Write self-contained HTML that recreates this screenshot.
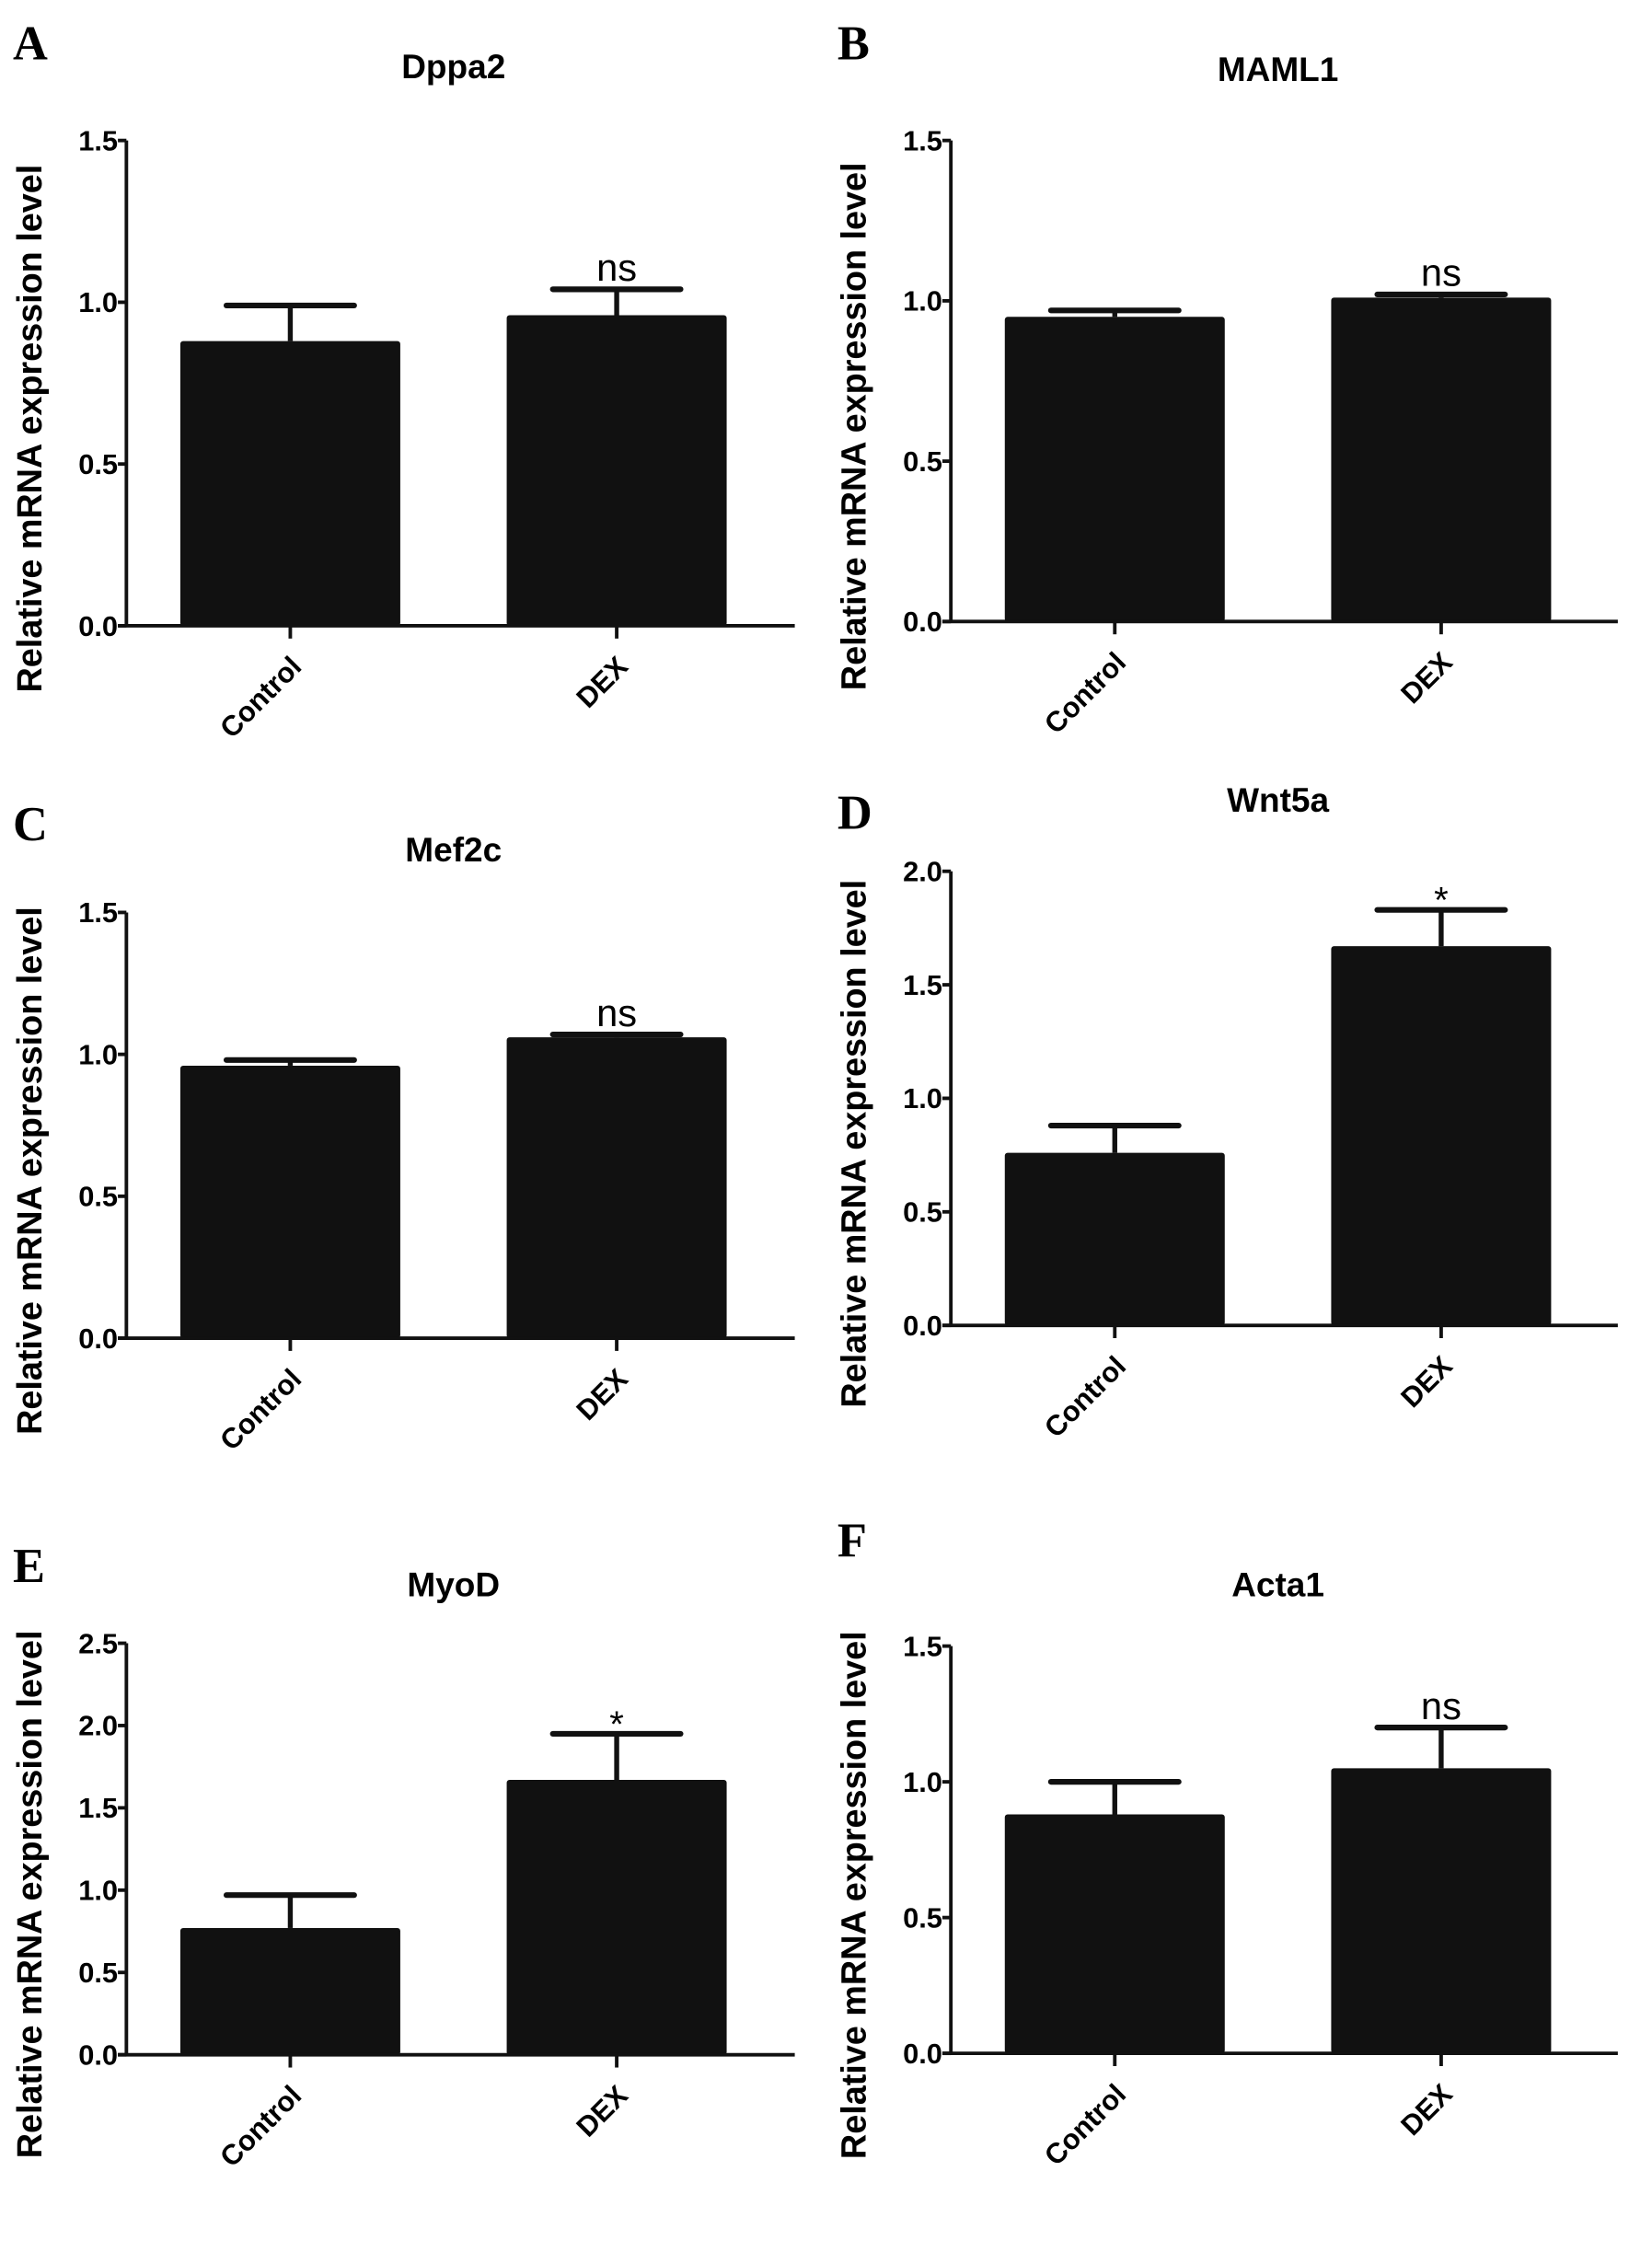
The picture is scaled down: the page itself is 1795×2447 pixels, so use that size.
<!DOCTYPE html>
<html><head><meta charset="utf-8">
<style>
html,body{margin:0;padding:0;background:#fff;}
svg{display:block;}
</style></head>
<body>
<svg id="fig" xmlns="http://www.w3.org/2000/svg" width="1795" height="2447" viewBox="0 0 1164 1587"></svg>
<script>
const genes = ["Dppa2","MAML1","Mef2c","Wnt5a","MyoD","Acta1"];
const panelLetters = ["A","B","C","D","E","F"];
const categories = ["Control","DEX"];
const controlMeans = [0.88,0.95,0.96,0.76,0.77,0.88];
const dexMeans = [0.96,1.01,1.06,1.67,1.67,1.05];
const controlErrTop = [0.99,0.97,0.98,0.88,0.97,1.00];
const dexErrTop = [1.04,1.02,1.07,1.83,1.95,1.20];
const significance = ["ns","ns","ns","*","*","ns"];
const yMax = [1.5,1.5,1.5,2.0,2.5,1.5];
const yTickLabels = [
  ["0.0","0.5","1.0","1.5"],
  ["0.0","0.5","1.0","1.5"],
  ["0.0","0.5","1.0","1.5"],
  ["0.0","0.5","1.0","1.5","2.0"],
  ["0.0","0.5","1.0","1.5","2.0","2.5"],
  ["0.0","0.5","1.0","1.5"]
];

// layout (pixel geometry, not data)
const layout = [
  {ax:89, top:99, zero:441, end:560, letterY:42, titleY:55},
  {ax:670, top:99, zero:438, end:1140, letterY:42, titleY:57},
  {ax:89, top:643, zero:943, end:560, letterY:592, titleY:607},
  {ax:670, top:614, zero:934, end:1140, letterY:584, titleY:572},
  {ax:89, top:1158, zero:1448, end:560, letterY:1115, titleY:1125},
  {ax:670, top:1160, zero:1447, end:1140, letterY:1097, titleY:1125}
];
const svg = document.getElementById('fig');
const NS = "http://www.w3.org/2000/svg";
const SANS = '"Liberation Sans", Arial, sans-serif';
function mk(tag, attrs, parent){
  const e = document.createElementNS(NS, tag);
  for (const k in attrs) e.setAttribute(k, attrs[k]);
  (parent||svg).appendChild(e);
  return e;
}
genes.forEach((g,i)=>{
  const L = layout[i];
  const grp = mk('g',{'font-family':SANS});
  
  
  const y = v => L.zero - (v / yMax[i]) * (L.zero - L.top);
  const barW = 155, gap = 75;
  const x0 = L.ax + 38;
  const xs = [x0, x0 + barW + gap];
  const lt = mk('text',{x:L.ax-80, y:L.letterY, 'font-size':34, 'font-weight':'bold', 'font-family':'"Liberation Serif", serif'}, grp);
  lt.textContent = panelLetters[i];
  
  
  const tt = mk('text',{x:(xs[0]+xs[1]+barW)/2, y:L.titleY, 'font-size':24, 'font-weight':'bold', 'text-anchor':'middle'}, grp);
  tt.textContent = g;
  
  
  const cy = (L.top + L.zero)/2 + 32;
  const yl = mk('text',{x:0, y:0, 'font-size':24.5, 'font-weight':'bold', 'text-anchor':'middle', transform:`translate(${L.ax-60},${cy}) rotate(-90)`}, grp);
  yl.textContent = "Relative mRNA expression level";
  
  
  const means = [controlMeans[i], dexMeans[i]];
  const errs = [controlErrTop[i], dexErrTop[i]];
  means.forEach((m,j)=>{
    const cx = xs[j] + barW/2;
    const el = mk('line',{x1:cx, x2:cx, y1:y(m), y2:y(errs[j]), stroke:'#111', 'stroke-width':3.5}, grp);
    
    
    const cap = mk('line',{x1:cx-45, x2:cx+45, y1:y(errs[j]), y2:y(errs[j]), stroke:'#111', 'stroke-width':4, 'stroke-linecap':'round'}, grp);
    
    
    const r = mk('rect',{x:xs[j], y:y(m), width:barW, height:L.zero - y(m), fill:'#111', rx:2}, grp);
    
    
    const tk = mk('line',{x1:cx, x2:cx, y1:L.zero, y2:L.zero+9, stroke:'#111', 'stroke-width':2.5}, grp);
    
    
    const cl = mk('text',{x:0, y:0, 'font-size':20, 'font-weight':'bold', 'text-anchor':'end', transform:`translate(${cx+9},${L.zero+30}) rotate(-45)`}, grp);
    cl.textContent = categories[j];
    
    
  });
  const star = significance[i]==='*';
  const sg = mk('text',{x:xs[1]+barW/2, y:y(dexErrTop[i]) - (star?-2:6), 'font-size':star?26:27, 'text-anchor':'middle'}, grp);
  sg.textContent = significance[i];
  
  
  const ya = mk('line',{x1:L.ax, x2:L.ax, y1:L.top, y2:L.zero, stroke:'#111', 'stroke-width':2.5}, grp);
  
  
  const xa = mk('line',{x1:L.ax-6, x2:L.end, y1:L.zero, y2:L.zero, stroke:'#111', 'stroke-width':2.5}, grp);
  
  
  yTickLabels[i].forEach(lbl=>{
    const v = parseFloat(lbl);
    const t = mk('line',{x1:L.ax-6, x2:L.ax, y1:y(v), y2:y(v), stroke:'#111', 'stroke-width':2.5}, grp);
    
    
    const tl = mk('text',{x:L.ax-6, y:y(v)+7, 'font-size':20, 'font-weight':'bold', 'text-anchor':'end'}, grp);
    tl.textContent = lbl;
    
    
  });
});
</script>
</body></html>
